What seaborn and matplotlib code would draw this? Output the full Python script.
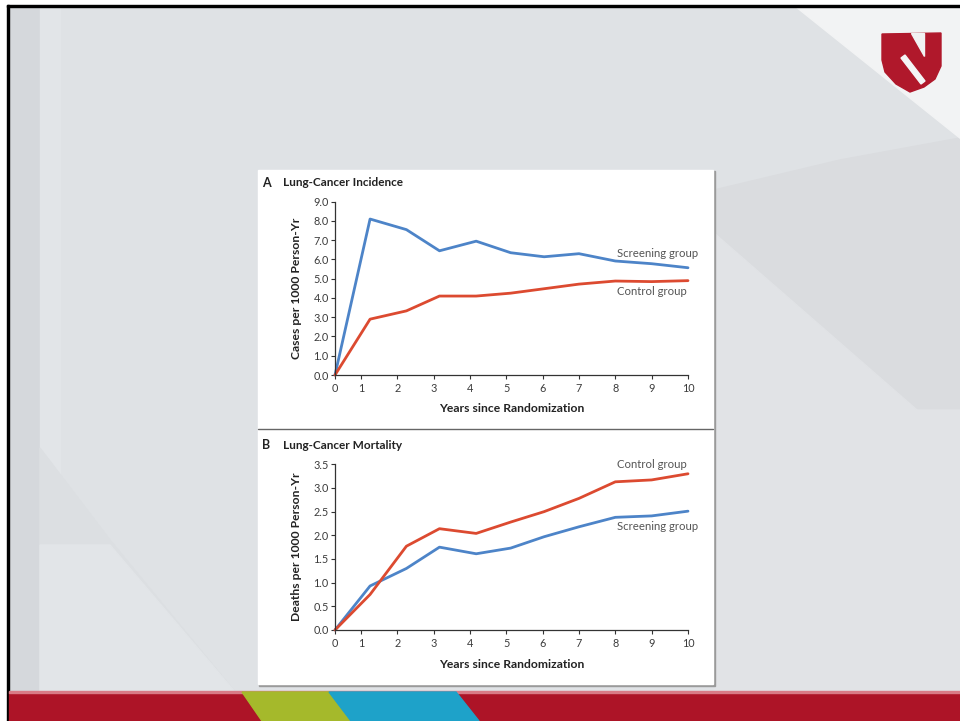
import numpy as np
import pandas as pd
import matplotlib
matplotlib.use("Agg")
import matplotlib.pyplot as plt
from matplotlib.patches import Polygon, Rectangle
import seaborn as sns

# ---- data -------------------------------------------------------------
# axis positions of the year ticks (first interval is drawn shorter)
tick_pos = [0.285, 1, 2, 3, 4, 5, 6, 7, 8, 9, 10]
tick_labels = ["0", "1", "2", "3", "4", "5", "6", "7", "8", "9", "10"]

# plotted positions of the yearly estimates
year_pos = [0.285, 1.25, 2.25, 3.16, 4.17, 5.12, 6.04, 7.0, 8.0, 9.0, 10.0]

incidence_screening = [0.0, 8.1, 7.55, 6.45, 6.95, 6.35, 6.14, 6.3, 5.92, 5.78, 5.57]
incidence_control = [0.0, 2.9, 3.33, 4.1, 4.1, 4.25, 4.48, 4.72, 4.88, 4.85, 4.9]

mortality_screening = [0.0, 0.93, 1.3, 1.75, 1.61, 1.73, 1.97, 2.18, 2.38, 2.41, 2.51]
mortality_control = [0.0, 0.75, 1.77, 2.14, 2.04, 2.28, 2.5, 2.78, 3.13, 3.17, 3.3]

incidence_ticks = [0.0, 1.0, 2.0, 3.0, 4.0, 5.0, 6.0, 7.0, 8.0, 9.0]
mortality_ticks = [0.0, 0.5, 1.0, 1.5, 2.0, 2.5, 3.0, 3.5]

groups = ["Screening group", "Control group"]
palette = {"Screening group": "#4d84c8", "Control group": "#dc4a30"}

# ---- style ------------------------------------------------------------
sns.set_style("ticks")
plt.rcParams["font.family"] = ["Lato", "DejaVu Sans"]

W, H = 960, 721
fig = plt.figure(figsize=(W / 100, H / 100), dpi=100)


def frac_box(left, top, right, bottom):
    """Pixel box (from top-left) to figure fraction rectangle."""
    return [left / W, (H - bottom) / H, (right - left) / W, (bottom - top) / H]


# ---- slide background ---------------------------------------------------
bg = fig.add_axes([0, 0, 1, 1], zorder=-5)
bg.set_xlim(0, W)
bg.set_ylim(H, 0)
bg.axis("off")

bg.add_patch(Rectangle((0, 0), W, H, color="white"))
bg.add_patch(Rectangle((8, 6), W - 8, H - 6, color="#dfe2e5"))
# soft diagonal shading
bg.add_patch(Polygon([(8, 6), (40, 6), (40, 692), (8, 692)], color="#d5d8dc"))
bg.add_patch(Polygon([(40, 6), (60, 6), (60, 692), (40, 692)], color="#e2e5e8"))
bg.add_patch(Polygon([(40, 448), (110, 540), (235, 692), (40, 692)], color="#dcdfe2"))
bg.add_patch(Polygon([(40, 545), (110, 545), (235, 692), (40, 692)], color="#e2e5e8"))
bg.add_patch(Polygon([(714, 233), (714, 190), (840, 160), (960, 138), (960, 410),
                      (917, 410)], color="#dadcdf"))
bg.add_patch(Polygon([(714, 233), (917, 410), (960, 410), (960, 692), (714, 692)],
                     color="#e1e3e6"))
bg.add_patch(Polygon([(795, 6), (960, 6), (960, 138)], color="#f2f3f4"))
# frame
bg.add_patch(Rectangle((7, 5), W - 7, 2.2, color="black"))
bg.add_patch(Rectangle((7, 5), 2.2, H - 5, color="black"))

# bottom band
bg.add_patch(Rectangle((9, 692), W - 9, H - 692, color="#ad1427"))
bg.add_patch(Rectangle((9, 691), W - 9, 1.5, color="#d97b86"))
bg.add_patch(Polygon([(242, 692), (329, 692), (351, H), (262, H)], color="#a5b92b"))
bg.add_patch(Polygon([(329, 692), (456, 692), (479, H), (351, H)], color="#1ea2c9"))

# logo shield
red = "#b0182b"
bg.add_patch(Polygon([(882, 34), (941, 33), (941, 66), (935, 79), (924, 87),
                      (910, 92), (896, 84), (885, 72), (882, 60)], color=red))
bg.add_patch(Polygon([(911, 33), (924, 33), (924, 56)], color="#f1f2f3"))
bg.add_patch(Polygon([(901, 58), (905, 55), (925, 81), (921, 84)], color="#f4f5f6"))

# chart card
bg.add_patch(Rectangle((259, 171), 456, 515, color="#9a9a9a"))
bg.add_patch(Rectangle((258, 170), 455, 514, color="white"))
bg.plot([258, 713], [429, 429], color="#666666", lw=1.0)


# ---- panels -------------------------------------------------------------
def draw_panel(box, screening, control, yticks, ylabel, letter, title, label_y):
    left, top, right, bottom = box
    ax = fig.add_axes(frac_box(*box))
    df = pd.DataFrame({
        "pos": year_pos * 2,
        "value": screening + control,
        "group": [groups[0]] * len(year_pos) + [groups[1]] * len(year_pos),
    })
    sns.lineplot(data=df, x="pos", y="value", hue="group", palette=palette,
                 hue_order=groups, ax=ax, lw=2.0, legend=False, clip_on=False)
    ax.set_facecolor("none")
    ax.set_xlim(tick_pos[0], tick_pos[-1])
    ax.set_ylim(yticks[0], yticks[-1])
    ax.set_xticks(tick_pos)
    ax.set_xticklabels(tick_labels)
    ax.set_yticks(yticks)
    ax.set_yticklabels([f"{v:.1f}" for v in yticks])
    sns.despine(ax=ax)
    for s in ("left", "bottom"):
        ax.spines[s].set_color("#333333")
        ax.spines[s].set_linewidth(0.9)
    ax.tick_params(axis="both", direction="out", length=3, width=0.8,
                   color="#333333", labelsize=7.8, labelcolor="#3c3c3c")
    ax.tick_params(axis="x", pad=3)
    ax.tick_params(axis="y", pad=1.5)
    w, h = right - left, bottom - top
    ax.set_xlabel("Years since Randomization", fontsize=8.7, fontweight="bold",
                  color="#222222")
    ax.xaxis.set_label_coords(0.5, -34 / h)
    ax.set_ylabel(ylabel, fontsize=8.7, fontweight="bold", color="#222222")
    ax.yaxis.set_label_coords((297 - left) / w, 0.5)
    ax.xaxis.label.set_va("center")
    ax.yaxis.label.set_va("center")
    ty = (bottom - (top - 19)) / h
    ax.text((262 - left) / w, ty, letter, transform=ax.transAxes, fontsize=9,
            fontweight="bold", color="#222222", va="center", ha="left")
    ax.text((283 - left) / w, ty, title, transform=ax.transAxes, fontsize=8.5,
            fontweight="bold", color="#222222", va="center", ha="left")
    for g, yv in zip(groups, label_y):
        ax.text(8.05, yv, g, fontsize=8.2, color="#555555", va="center", ha="left")
    return ax


draw_panel((335, 201.7, 688, 375), incidence_screening, incidence_control,
           incidence_ticks, "Cases per 1000 Person-Yr", "A", "Lung-Cancer Incidence",
           [6.33, 4.36])
draw_panel((335, 464.3, 688, 630), mortality_screening, mortality_control,
           mortality_ticks, "Deaths per 1000 Person-Yr", "B", "Lung-Cancer Mortality",
           [2.18, 3.5])

fig.savefig("out.png", dpi=100)
